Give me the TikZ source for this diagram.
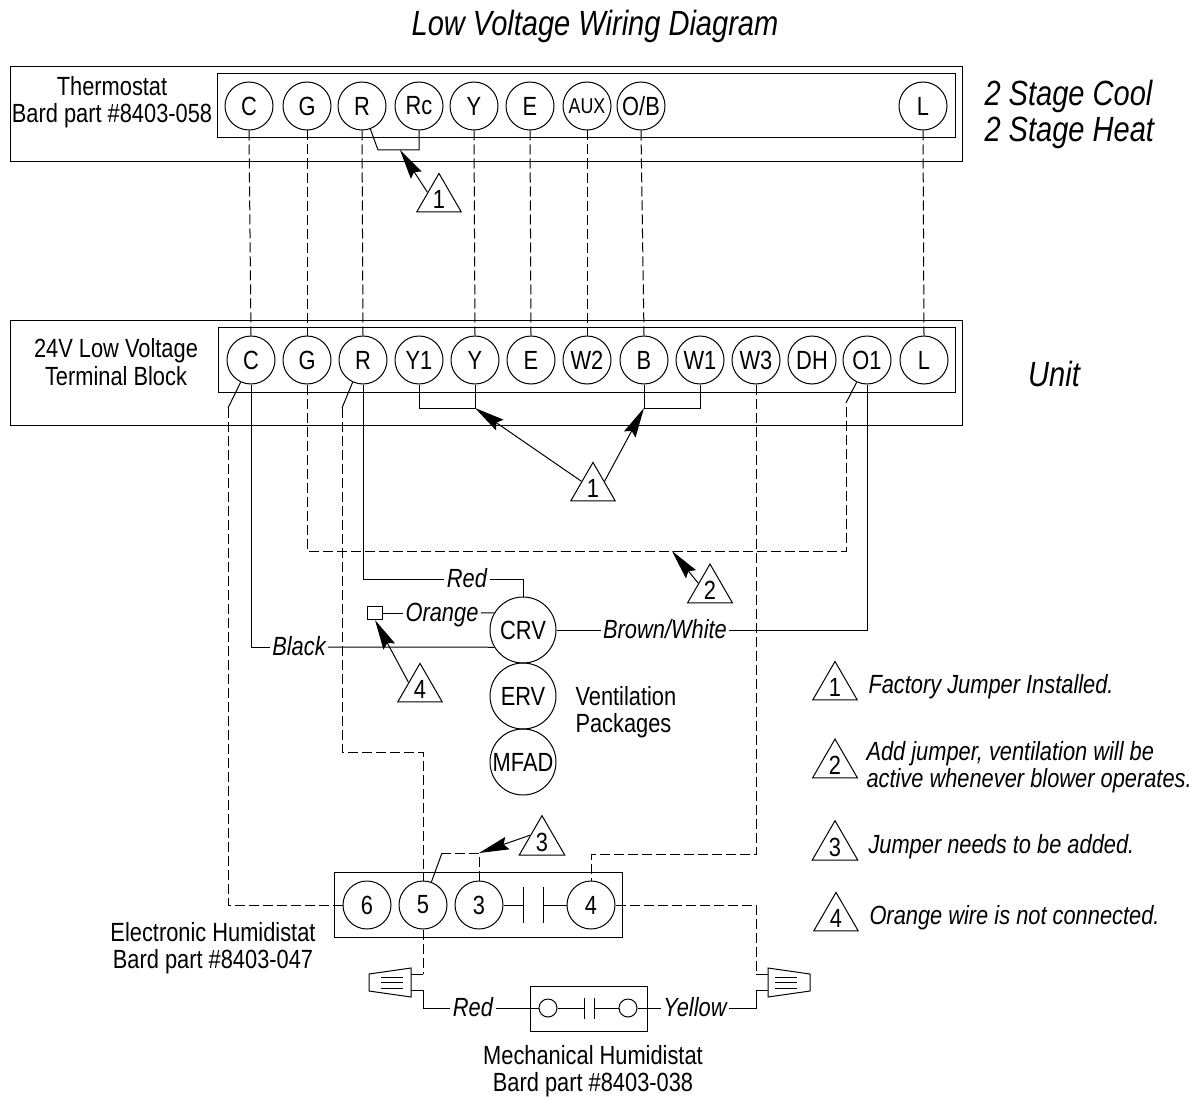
\documentclass[tikz,border=0pt]{standalone}
\usepackage{fontspec}
\setmainfont{Liberation Sans}[FakeStretch=0.83]
\usetikzlibrary{arrows.meta,shapes.geometric}
\newcommand{\bodysize}{\fontsize{26.3}{27.5}\selectfont}
\newcommand{\headsize}{\fontsize{35}{36}\selectfont}
\newcommand{\auxsize}{\fontsize{21.5}{24}\selectfont}
\begin{document}
\begin{tikzpicture}[x=1pt, y=-1pt, line width=1pt,
    every node/.style = {font=\bodysize, align=center, inner sep=0pt},
    terminal/.style = {shape=circle, draw, minimum size=48pt},
    vent/.style = {shape=circle, draw, minimum size=66pt},
    marker/.style = {shape=regular polygon, regular polygon sides=3, draw, minimum size=49.7pt},
    wirelabel/.style = {font=\bodysize\itshape, inner xsep=2pt, text height=18pt, text depth=2pt},
    bigtext/.style = {font=\headsize\itshape},
    note/.style = {font=\bodysize\itshape, align=left, anchor=west},
    field/.style = {dash pattern=on 10pt off 4pt},
    pointer/.style = {-{Stealth[length=30pt,width=13pt,inset=4pt]}}]

  \useasboundingbox (0,0) rectangle (1194,1097);

  % panels
  \draw (10,67) rectangle (962,162);
  \draw (217,74) rectangle (955,138);
  \draw (10,320) rectangle (962,425);
  \draw (218,327) rectangle (955,392);
  \draw (334,872) rectangle (622,937);
  \draw (530,986) rectangle (647,1031);

  % terminals
  \foreach \name/\txt/\x in {C/C/249, G/G/307, R/R/362, Rc/Rc/419, Y/Y/474, E/E/530, OB/O\slash B/641, L/L/923}
    \node [terminal] (t\name) at (\x,106) {\txt};
  \node [terminal, font=\auxsize] (tAUX) at (587,106) {AUX};

  \foreach \name/\x in {C/251, G/307, R/363, Y1/419, Y/475, E/531, W2/587, B/644, W1/700, W3/756, DH/812, O1/867, L/924}
    \node [terminal] (u\name) at (\x,360) {\name};

  \foreach \name/\x in {6/367, 5/423, 3/479, 4/591}
    \node [terminal] (h\name) at (\x,905) {\name};

  \node [vent] (crv) at (523,630) {CRV};
  \node [vent] (erv) at (523,696) {ERV};
  \node [vent] (mfad) at (523,762) {MFAD};

  % texts
  \node (title) at (595,26) [bigtext] {Low Voltage Wiring Diagram};
  \node (tstat) at (112,102) {Thermostat\\Bard part \#8403-058};
  \node (block) at (116,362) {24V Low Voltage\\Terminal Block};
  \node (stage) at (984,114) [bigtext, align=left, anchor=west] {2 Stage Cool\\2 Stage Heat};
  \node (unit) at (1054,374) [bigtext] {Unit};
  \node (ventpack) at (575,712) [align=left, anchor=west] {Ventilation\\Packages};
  \node (ehum) at (213,948) {Electronic Humidistat\\Bard part \#8403-047};
  \node (mhum) at (593,1071) {Mechanical Humidistat\\Bard part \#8403-038};

  % markers
  \node [marker] (m1) at (439,199) {1};
  \node [marker] (m1b) at (593,488) {1};
  \node [marker] (m2) at (710,590) {2};
  \node [marker] (m3) at (542,842) {3};
  \node [marker] (m4) at (420,689) {4};

  % legend
  \node [marker] (k1) at (835,687) {1};
  \node [marker] (k2) at (835,765) {2};
  \node [marker] (k3) at (835,847) {3};
  \node [marker] (k4) at (836,918) {4};
  \node [note] (n1) at (868,687) {Factory Jumper Installed.};
  \node [note] (n2) at (866,767) {Add jumper, ventilation will be\\active whenever blower operates.};
  \node [note] (n3) at (868,847) {Jumper needs to be added.};
  \node [note] (n4) at (869,918) {Orange wire is not connected.};

  % thermostat to unit
  \foreach \a/\b in {C/C, G/G, R/R, Y/Y, E/E, AUX/W2, OB/B, L/L}
    \draw [field] (t\a.south) -- (u\b.north);

  % factory jumpers
  \coordinate (jogR) at (378,150);
  \coordinate (jogRc) at (400,150);
  \coordinate (jogY) at (475,408);
  \coordinate (jogB) at (644,408);
  \draw (tR.290) -- (jogR) -| (tRc.south);
  \draw [pointer] (m1.side 1) -- (jogRc);
  \draw (uY1.south) |- (jogY) -- (uY.south);
  \draw (uB.south) -- (jogB) -| (uW1.south);
  \draw [pointer] (m1b.side 1) -- (jogY);
  \draw [pointer] (m1b.side 3) -- (jogB);

  % added jumper G to O1
  \coordinate (bendG) at (307,551);
  \coordinate (bendO) at (846,551);
  \coordinate (stepO) at (846,403);
  \coordinate (tipTwo) at (672,551);
  \draw [field] (uG.south) -- (bendG) -- (bendO) -- (stepO);
  \draw (stepO) -- (uO1.245);
  \draw [pointer] (m2.side 1) -- (tipTwo);

  % ventilation wiring
  \node [wirelabel] (red) at (467,579) {Red};
  \node [wirelabel] (orange) at (442,613) {Orange};
  \node [wirelabel] (black) at (299,647) {Black};
  \node [wirelabel] (brown) at (665,630) {Brown/White};
  \node [draw, minimum width=15pt, minimum height=13pt] (tap) at (375,613) {};
  \draw (uR.south) |- (red.west);
  \draw (red.east) -| (crv.north);
  \draw (tap.east) -- (orange.west);
  \draw (orange.east) -- (crv.149);
  \draw (uC.south) |- (black.west);
  \draw (black.east) -- (crv.211);
  \draw (crv.east) -- (brown.west);
  \draw (brown.east) -| (uO1.south);
  \draw [pointer] (m4.side 1) -- (tap.south);

  % humidistat
  \coordinate (stepC) at (228,408);
  \coordinate (bendC) at (228,905);
  \coordinate (stepR) at (342,408);
  \coordinate (bendR) at (342,752);
  \coordinate (dropR) at (423,752);
  \coordinate (overW) at (756,854);
  \coordinate (downW) at (591,854);
  \coordinate (hopA) at (442,853);
  \coordinate (hopB) at (479,853);
  \coordinate (plateA) at (523,905);
  \coordinate (plateB) at (543,905);
  \draw (uC.245) -- (stepC);
  \draw [field] (stepC) -- (bendC) -- (h6.west);
  \draw (uR.245) -- (stepR);
  \draw [field] (stepR) -- (bendR) -- (dropR) -- (h5.north);
  \draw [field] (uW3.south) -- (overW) -- (downW) -- (h4.north);
  \draw [field] (h3.north) -- (hopB) -- (hopA);
  \draw (hopA) -- (h5.70);
  \draw [pointer] (m3.side 1) -- (hopB);
  \draw (h3.east) -- (plateA);
  \draw (plateB) -- (h4.west);
  \draw (523,887) -- (523,923);
  \draw (543,887) -- (543,923);

  % wire nuts
  \draw (411,968) -- (369,974) -- (369,991) -- (411,997) -- cycle;
  \draw (768,968) -- (810,974) -- (810,991) -- (768,997) -- cycle;
  \foreach \y in {977,982,988} {
    \draw (381,\y) -- (403,\y);
    \draw (775,\y) -- (797,\y);
  }

  % mechanical humidistat
  \node [shape=circle, draw, minimum size=18pt] (dotA) at (548,1008) {};
  \node [shape=circle, draw, minimum size=18pt] (dotB) at (628,1008) {};
  \node [wirelabel] (redB) at (473,1008) {Red};
  \node [wirelabel] (yellow) at (695,1008) {Yellow};
  \coordinate (nutLa) at (411,974);
  \coordinate (nutLb) at (411,990);
  \coordinate (nutRa) at (768,974);
  \coordinate (nutRb) at (768,990);
  \coordinate (kneeLa) at (423,974);
  \coordinate (kneeLb) at (423,990);
  \coordinate (kneeRa) at (756,974);
  \coordinate (kneeRb) at (756,990);
  \coordinate (plateC) at (584,1008);
  \coordinate (plateD) at (594,1008);
  \draw [field] (h5.south) -- (kneeLa);
  \draw (kneeLa) -- (nutLa);
  \draw (nutLb) -- (kneeLb) |- (redB.west);
  \draw (redB.east) -- (dotA.west);
  \draw (dotA.east) -- (plateC);
  \draw (plateD) -- (dotB.west);
  \draw (584,998) -- (584,1019);
  \draw (594,998) -- (594,1019);
  \draw (dotB.east) -- (yellow.west);
  \draw (yellow.east) -| (kneeRb) -- (nutRb);
  \draw [field] (h4.east) -| (kneeRa);
  \draw (kneeRa) -- (nutRa);

\end{tikzpicture}
\end{document}
